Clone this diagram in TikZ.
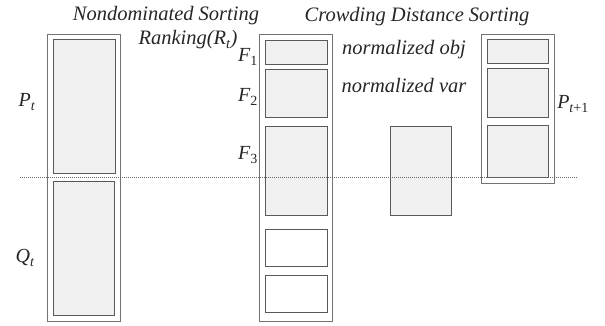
\documentclass[tikz,border=0pt]{standalone}
\usepackage{fontspec}
\setmainfont{Liberation Serif}
\begin{document}
\begin{tikzpicture}[x=1pt,y=-1pt,
  outerbox/.style={draw=black!55,line width=1.2pt,inner sep=0pt,anchor=north west},
  innerbox/.style={draw=black!65,line width=1.2pt,fill=black!6,inner sep=0pt,anchor=north west},
  emptybox/.style={draw=black!65,line width=1.2pt,fill=white,inner sep=0pt,anchor=north west},
  lbl/.style={font=\fontsize{20.5}{24}\selectfont\itshape,text=black!85,inner sep=0pt},
  sym/.style={font=\fontsize{20}{22}\selectfont\itshape,text=black!85,inner sep=0pt}]
\useasboundingbox (0,0) rectangle (605,326);
% left column
\node[outerbox,minimum width=73pt,minimum height=287pt] (L) at (47,34) {};
\node[innerbox,minimum width=62pt,minimum height=134pt] (Lp) at (53,39) {};
\node[innerbox,minimum width=61pt,minimum height=134pt] (Lq) at (53,181) {};
% middle column
\node[outerbox,minimum width=73pt,minimum height=287pt] (M) at (259,34) {};
\node[innerbox,minimum width=62pt,minimum height=24pt] (F1) at (265,40) {};
\node[innerbox,minimum width=62pt,minimum height=48pt] (F2) at (265,69) {};
\node[innerbox,minimum width=62pt,minimum height=89pt] (F3) at (265,126) {};
\node[emptybox,minimum width=62pt,minimum height=37pt] (E1) at (265,229) {};
\node[emptybox,minimum width=62pt,minimum height=37pt] (E2) at (265,275) {};
% standalone box
\node[innerbox,minimum width=61pt,minimum height=89pt] (S) at (390,126) {};
% right column
\node[outerbox,minimum width=73pt,minimum height=149pt] (R) at (481,34) {};
\node[innerbox,minimum width=61pt,minimum height=24pt] (R1) at (487,39) {};
\node[innerbox,minimum width=61pt,minimum height=49pt] (R2) at (487,68) {};
\node[innerbox,minimum width=61pt,minimum height=52pt] (R3) at (487,125) {};
% dotted line
\coordinate (dl) at (20,177);
\coordinate (dr) at (578,177);
\draw[black!60,line width=0.8pt,dash pattern=on 1.2pt off 0.8pt] (dl) -- (dr);
% labels
\node[lbl] (t1) at (166,16) {Nondominated Sorting};
\node[lbl] (t2) at (417,17) {Crowding Distance Sorting};
\node[lbl] (t3) at (188,40) {Ranking(\textit{R}\textsubscript{\textit{t}})};
\node[lbl] (t4) at (404,50) {normalized obj};
\node[lbl] (t5) at (404,85) {normalized var};
\node[sym] (pt) at (27,102) {P\textsubscript{t}};
\node[sym] (qt) at (25,258) {Q\textsubscript{t}};
\node[sym] (pt1) at (573,104) {P\textsubscript{t\upshape+1}};
\node[sym,anchor=east] (f1) at (258,57) {F\textsubscript{\upshape 1}};
\node[sym,anchor=east] (f2) at (258,97) {F\textsubscript{\upshape 2}};
\node[sym,anchor=east] (f3) at (258,155) {F\textsubscript{\upshape 3}};
\end{tikzpicture}
\end{document}
